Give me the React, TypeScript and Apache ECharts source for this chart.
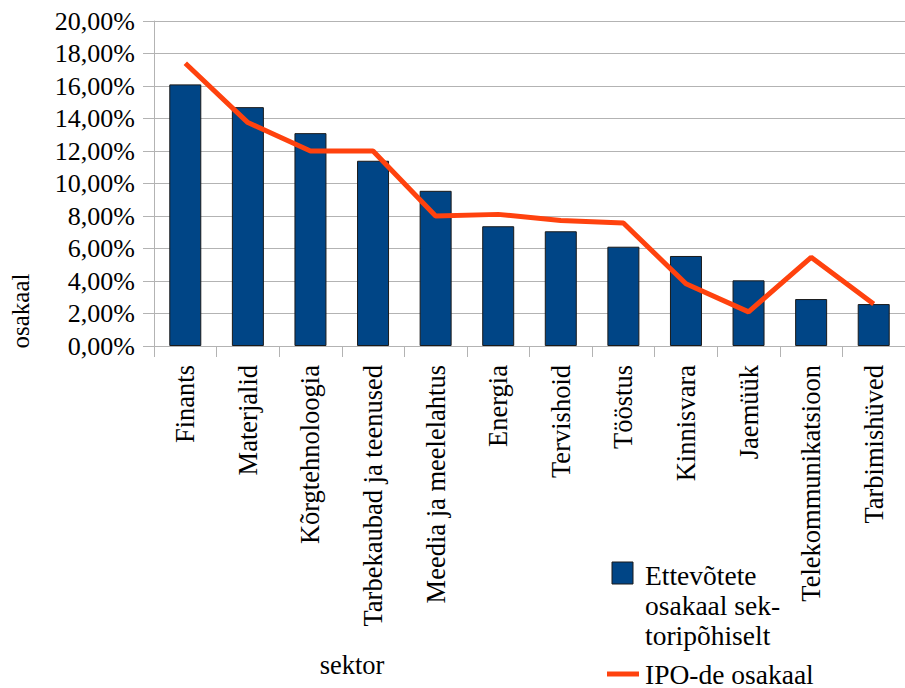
import React, { useEffect, useRef } from "react";
import * as echarts from "echarts";

const categories = [
  "Finants",
  "Materjalid",
  "Kõrgtehnoloogia",
  "Tarbekaubad ja teenused",
  "Meedia ja meelelahtus",
  "Energia",
  "Tervishoid",
  "Tööstus",
  "Kinnisvara",
  "Jaemüük",
  "Telekommunikatsioon",
  "Tarbimishüved",
];

const companyShare = [16.1, 14.7, 13.1, 11.4, 9.55, 7.37, 7.06, 6.11, 5.54, 4.04, 2.89, 2.58];
const ipoShare = [17.4, 13.75, 12.0, 12.0, 8.0, 8.1, 7.73, 7.57, 3.83, 2.1, 5.46, 2.58];

const barName = "Ettevõtete osakaal sektoripõhiselt";
const lineName = "IPO-de osakaal";
const yAxisTitle = "osakaal";
const xAxisTitle = "sektor";

const FONT = "Liberation Serif";
const BAR_COLOR = "#004586";
const LINE_COLOR = "#ff420e";

export default function App() {
  const ref = useRef<HTMLDivElement>(null);

  useEffect(() => {
    if (!ref.current) return;
    const chart = echarts.init(ref.current, undefined, { renderer: "svg" });
    chart.setOption({
      animation: false,
      backgroundColor: "#ffffff",
      textStyle: { fontFamily: FONT, color: "#000" },
      grid: { left: 154, top: 21, right: -9, bottom: 342, containLabel: false },
      xAxis: {
        type: "category",
        data: categories,
        boundaryGap: true,
        axisLine: { show: true, lineStyle: { color: "#b3b3b3", width: 1 } },
        axisTick: { show: true, length: 11, alignWithLabel: false, lineStyle: { color: "#b3b3b3" } },
        axisLabel: {
          interval: 0,
          rotate: 90,
          margin: 19,
          fontSize: 26.5,
          fontFamily: FONT,
          color: "#000",
        },
        splitLine: { show: false },
      },
      yAxis: {
        type: "value",
        min: 0,
        max: 20,
        interval: 2,
        axisLine: { show: true, lineStyle: { color: "#b3b3b3", width: 1 } },
        axisTick: { show: true, length: 11, lineStyle: { color: "#b3b3b3" } },
        axisLabel: {
          margin: 19,
          fontSize: 26,
          fontFamily: FONT,
          color: "#000",
          formatter: (v: number) => v.toFixed(2).replace(".", ",") + "%",
        },
        splitLine: { show: true, lineStyle: { color: "#b3b3b3", width: 1 } },
      },
      series: [
        {
          name: barName,
          type: "bar",
          data: companyShare,
          barWidth: 32,
          itemStyle: { color: BAR_COLOR, borderColor: "#1a1a1a", borderWidth: 1 },
          z: 2,
        },
        {
          name: lineName,
          type: "line",
          data: ipoShare,
          showSymbol: false,
          symbol: "none",
          lineStyle: { color: LINE_COLOR, width: 5 },
          itemStyle: { color: LINE_COLOR },
          z: 3,
        },
      ],
      graphic: [
        {
          type: "text",
          x: 20,
          y: 311,
          rotation: Math.PI / 2,
          style: {
            text: yAxisTitle,
            fontSize: 25,
            fontFamily: FONT,
            fill: "#000",
            align: "center",
            verticalAlign: "middle",
          },
        },
        {
          type: "text",
          x: 352,
          y: 665,
          style: {
            text: xAxisTitle,
            fontSize: 26.5,
            fontFamily: FONT,
            fill: "#000",
            align: "center",
            verticalAlign: "middle",
          },
        },
        {
          type: "rect",
          shape: { x: 612, y: 562, width: 21, height: 22 },
          style: { fill: BAR_COLOR, stroke: "#1a1a1a", lineWidth: 1 },
        },
        {
          type: "text",
          x: 645,
          y: 560,
          style: {
            text: "Ettevõtete\nosakaal sek-\ntoripõhiselt",
            fontSize: 27.5,
            lineHeight: 30,
            fontFamily: FONT,
            fill: "#000",
            align: "left",
            verticalAlign: "top",
          },
        },
        {
          type: "line",
          shape: { x1: 607, y1: 674, x2: 639, y2: 674 },
          style: { stroke: LINE_COLOR, lineWidth: 5 },
        },
        {
          type: "text",
          x: 645,
          y: 674,
          style: {
            text: lineName,
            fontSize: 27.5,
            fontFamily: FONT,
            fill: "#000",
            align: "left",
            verticalAlign: "middle",
          },
        },
      ],
    });
    return () => chart.dispose();
  }, []);

  return <div ref={ref} style={{ width: 905, height: 688, position: "absolute", left: 0, top: 0 }} />;
}
